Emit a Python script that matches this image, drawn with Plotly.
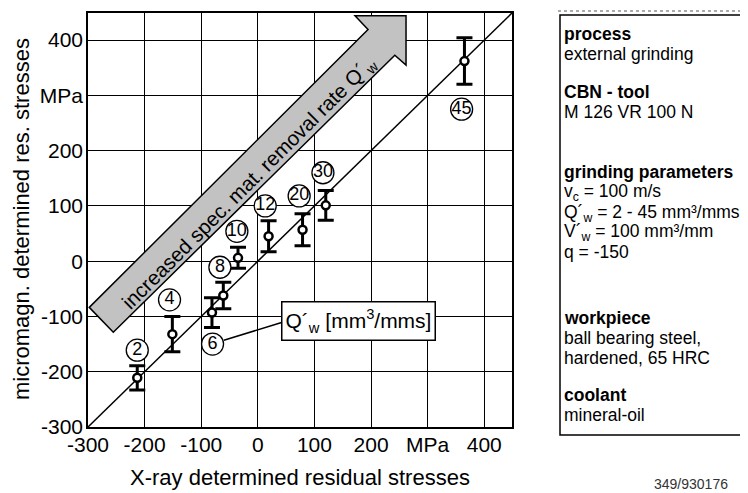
import plotly.graph_objects as go

# ---- data ----
q_labels = ["2", "4", "6", "8", "10", "12", "20", "30", "45"]
xray_stress = [-213, -151, -81, -61, -35, 19, 79, 120, 365]
micromag_stress = [-211, -132, -93, -62, 6, 45, 57, 101, 362]
micromag_err = [22, 32, 27, 24, 19, 28, 29, 27, 42]

x_tickvals = [-300, -200, -100, 0, 100, 200, 300, 400]
x_ticktext = ["-300", "-200", "-100", "0", "100", "200", "MPa", "400"]
y_tickvals = [-300, -200, -100, 0, 100, 200, 300, 400]
y_ticktext = ["-300", "-200", "-100", "0", "100", "200", "MPa", "400"]

panel_lines = [
    ("<b>process</b>", 32),
    ("external grinding", 52),
    ("<b>CBN - tool</b>", 90),
    ("M 126 VR 100 N", 110),
    ("<b>grinding parameters</b>", 171),
    ("v<sub>c</sub> = 100 m/s", 191),
    ("Q´<sub>w</sub> = 2 - 45 mm³/mms", 212),
    ("V´<sub>w</sub> = 100 mm³/mm", 232),
    ("q = -150", 251),
    ("<b>workpiece</b>", 317),
    ("ball bearing steel,", 338),
    ("hardened, 65 HRC", 358),
    ("<b>coolant</b>", 395),
    ("mineral-oil", 415),
]

# ---- layout / style ----
FONT = "Liberation Sans, Arial, sans-serif"
OFF = 8                      # page body margin of the html page
W, H = 748 - OFF, 493 - OFF
L, R, T, B = 88, 512, 11, 427   # plot area in window pixels
XR = [-300, 449]
YR = [-300, 449]

# label placement offsets (data units) relative to each point
label_dx = [0, -5, 1, -6, -2, -6, -6, -5, -5]
label_dy = [50, 62, -57, 51, 48, 55, 61, 59, -87]


def px2paper_x(px):
    return (px - L) / (R - L)


def px2paper_y(py):
    return (B - py) / (B - T)


fig = go.Figure()

fig.add_trace(go.Scatter(
    x=xray_stress, y=micromag_stress,
    mode="markers",
    marker=dict(size=8, color="white", line=dict(color="black", width=2.5)),
    error_y=dict(type="data", array=micromag_err, thickness=3, width=8, color="black"),
    showlegend=False, hoverinfo="skip",
))

fig.add_trace(go.Scatter(
    x=[a + d for a, d in zip(xray_stress, label_dx)],
    y=[a + d for a, d in zip(micromag_stress, label_dy)],
    mode="markers+text",
    text=q_labels,
    textposition="middle center",
    textfont=dict(family=FONT, size=18, color="black"),
    marker=dict(size=22, color="white", line=dict(color="black", width=1.3)),
    showlegend=False, hoverinfo="skip",
))

shapes = []
# identity line
shapes.append(dict(type="line", xref="x", yref="y", x0=XR[0], y0=YR[0], x1=XR[1], y1=YR[1],
                   line=dict(color="black", width=1.5), layer="between"))
# big arrow
arrow_pts = [(-297.7, -83.6), (194.7, 419), (171.7, 444), (261.8, 444),
             (261.8, 354.7), (242, 372.6), (-255.3, -128.6)]
path = "M " + " L ".join(f"{x},{y}" for x, y in arrow_pts) + " Z"
shapes.append(dict(type="path", xref="x", yref="y", path=path,
                   fillcolor="#c2c2c2", line=dict(color="black", width=1.5), layer="above"))
# leader line from label 6 to the legend box
shapes.append(dict(type="line", xref="x", yref="y", x0=-60, y0=-143, x1=42, y1=-111,
                   line=dict(color="black", width=1.5), layer="above"))
# right info panel box
shapes.append(dict(type="rect", xref="paper", yref="paper",
                   x0=px2paper_x(560), x1=px2paper_x(745), y0=px2paper_y(435), y1=px2paper_y(13),
                   line=dict(color="black", width=1.5), fillcolor="white", layer="above"))
# scan artefact dotted line above panel
shapes.append(dict(type="line", xref="paper", yref="paper",
                   x0=px2paper_x(558), x1=px2paper_x(748), y0=px2paper_y(9), y1=px2paper_y(9),
                   line=dict(color="#aaaaaa", width=2, dash="dot"), layer="above"))

annotations = []
annotations.append(dict(
    x=-15, y=142, xref="x", yref="y", xanchor="center", yanchor="middle",
    text="increased spec. mat. removal rate Q´<sub>w</sub>",
    textangle=-45, showarrow=False,
    font=dict(family=FONT, size=20.5, color="black"),
))
annotations.append(dict(
    x=177, y=-109, xref="x", yref="y", xanchor="center", yanchor="middle",
    text="Q´<sub>w</sub> [mm<sup>3</sup>/mms]",
    showarrow=False, bgcolor="white", bordercolor="black", borderwidth=1.5,
    borderpad=1, width=150, height=35,
    font=dict(family=FONT, size=21, color="black"),
))
for txt, py in panel_lines:
    annotations.append(dict(
        x=px2paper_x(562), y=px2paper_y(py), xref="paper", yref="paper",
        xanchor="left", yanchor="middle", text=txt, showarrow=False,
        font=dict(family=FONT, size=17.5, color="black"),
    ))
annotations.append(dict(
    x=px2paper_x(21), y=px2paper_y(218), xref="paper", yref="paper",
    xanchor="center", yanchor="middle",
    text="micromagn. determined res. stresses", textangle=-90, showarrow=False,
    font=dict(family=FONT, size=22, color="black"),
))
annotations.append(dict(
    x=px2paper_x(300), y=px2paper_y(478), xref="paper", yref="paper",
    xanchor="center", yanchor="middle",
    text="X-ray determined residual stresses", showarrow=False,
    font=dict(family=FONT, size=22, color="black"),
))
annotations.append(dict(
    x=px2paper_x(652), y=px2paper_y(484), xref="paper", yref="paper",
    xanchor="left", yanchor="middle", text="349/930176", showarrow=False,
    font=dict(family=FONT, size=14, color="#333333"),
))

axis_common = dict(
    showgrid=True, gridcolor="black", gridwidth=1,
    zeroline=False, showline=True, mirror=True, linecolor="black", linewidth=1.5,
    ticks="", tickfont=dict(family=FONT, size=21, color="black"),
    fixedrange=True,
)

fig.update_layout(
    width=W, height=H,
    margin=dict(l=L - OFF, r=(W + OFF) - R, t=T - OFF, b=(H + OFF) - B, pad=0),
    paper_bgcolor="white", plot_bgcolor="white",
    xaxis=dict(range=XR, tickvals=x_tickvals, ticktext=x_ticktext, ticklabelstandoff=-2, **axis_common),
    yaxis=dict(range=YR, tickvals=y_tickvals, ticktext=y_ticktext, ticklabelstandoff=-1, **axis_common),
    shapes=shapes,
    annotations=annotations,
    font=dict(family=FONT, color="black"),
    showlegend=False,
)

fig.write_html("out.html")
